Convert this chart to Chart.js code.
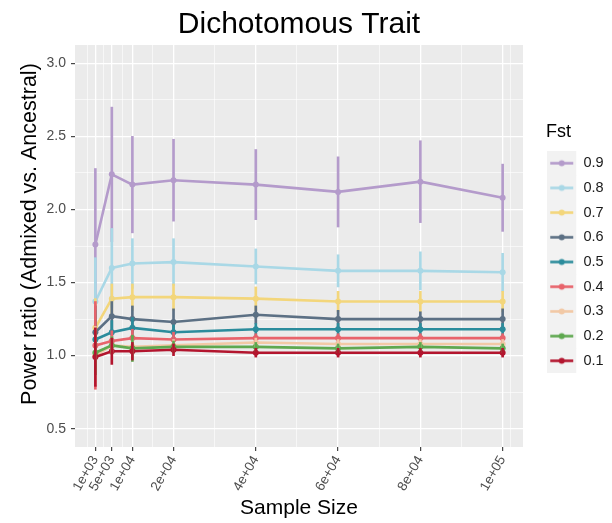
<!DOCTYPE html>
<html>
<head>
<meta charset="utf-8">
<script src="https://cdn.jsdelivr.net/npm/chart.js@4.4.0/dist/chart.umd.min.js"></script>
<style>
  html, body { margin: 0; padding: 0; background: #ffffff; }
  #wrap { width: 612px; height: 523px; }
</style>
</head>
<body>
<div id="wrap"><canvas id="chart" width="612" height="523"></canvas></div>
<script>
// Sample sizes on the x axis and their printed labels
const sampleSizes = [1000, 5000, 10000, 20000, 40000, 60000, 80000, 100000];
const sampleSizeLabels = ['1e+03', '5e+03', '1e+04', '2e+04', '4e+04', '6e+04', '8e+04', '1e+05'];
const ratioTicks = [0.5, 1.0, 1.5, 2.0, 2.5, 3.0];

// Fst levels and their colours
const fstLevels = ['0.1', '0.2', '0.3', '0.4', '0.5', '0.6', '0.7', '0.8', '0.9'];
const fstColors = ['#B3152E', '#5EA84F', '#F2C9A6', '#E8636B', '#2B8C9C', '#5C7084', '#F3D67B', '#A9D8E6', '#B49BCB'];

// Mean power ratio per sample size, one array per Fst level
const ratio01 = [0.99, 1.03, 1.03, 1.04, 1.02, 1.02, 1.02, 1.02];
const ratio02 = [1.02, 1.07, 1.05, 1.06, 1.06, 1.05, 1.06, 1.05];
const ratio03 = [1.00, 1.07, 1.06, 1.07, 1.09, 1.08, 1.08, 1.08];
const ratio04 = [1.07, 1.10, 1.12, 1.11, 1.12, 1.12, 1.12, 1.12];
const ratio05 = [1.11, 1.16, 1.19, 1.16, 1.18, 1.18, 1.18, 1.18];
const ratio06 = [1.16, 1.27, 1.25, 1.23, 1.28, 1.25, 1.25, 1.25];
const ratio07 = [1.19, 1.39, 1.40, 1.40, 1.39, 1.37, 1.37, 1.37];
const ratio08 = [1.37, 1.60, 1.63, 1.64, 1.61, 1.58, 1.58, 1.57];
const ratio09 = [1.76, 2.24, 2.17, 2.20, 2.17, 2.12, 2.19, 2.08];

// Half-width of the error bar at each sample size
const err01 = [0.20, 0.09, 0.06, 0.04, 0.03, 0.03, 0.03, 0.03];
const err02 = [0.15, 0.06, 0.09, 0.04, 0.03, 0.03, 0.03, 0.03];
const err03 = [0.20, 0.06, 0.05, 0.04, 0.03, 0.03, 0.03, 0.03];
const err04 = [0.30, 0.07, 0.06, 0.05, 0.03, 0.03, 0.03, 0.03];
const err05 = [0.20, 0.08, 0.07, 0.05, 0.04, 0.04, 0.04, 0.04];
const err06 = [0.18, 0.10, 0.09, 0.09, 0.06, 0.06, 0.05, 0.07];
const err07 = [0.20, 0.10, 0.09, 0.09, 0.08, 0.07, 0.07, 0.07];
const err08 = [0.30, 0.27, 0.17, 0.16, 0.12, 0.11, 0.13, 0.13];
const err09 = [0.52, 0.46, 0.33, 0.28, 0.24, 0.24, 0.28, 0.23];

const ratios = [ratio01, ratio02, ratio03, ratio04, ratio05, ratio06, ratio07, ratio08, ratio09];
const errs = [err01, err02, err03, err04, err05, err06, err07, err08, err09];

const FONT = "'Liberation Sans', Arial, Helvetica, sans-serif";

// Axis limits: data limits padded by 5% on each side
const xSpan = sampleSizes[sampleSizes.length - 1] - sampleSizes[0];
const xMin = sampleSizes[0] - 0.05 * xSpan;
const xMax = sampleSizes[sampleSizes.length - 1] + 0.05 * xSpan;
const ySpan = ratioTicks[ratioTicks.length - 1] - ratioTicks[0];
const yMin = ratioTicks[0] - 0.05 * ySpan;
const yMax = ratioTicks[ratioTicks.length - 1] + 0.05 * ySpan;

// Minor grid positions halfway between breaks (breaks extended one step beyond each end)
function minorBetween(breaks, lo, hi) {
  const step = breaks[1] - breaks[0];
  const ext = [breaks[0] - step, ...breaks, breaks[breaks.length - 1] + step];
  const out = [];
  for (let i = 0; i < ext.length - 1; i++) {
    const m = (ext[i] + ext[i + 1]) / 2;
    if (m >= lo && m <= hi) out.push(m);
  }
  return out;
}
const xMinor = minorBetween(sampleSizes, xMin, xMax);
const yMinor = minorBetween(ratioTicks, yMin, yMax);
const xAllTicks = [...sampleSizes, ...xMinor].sort((a, b) => a - b);
const yAllTicks = [...ratioTicks, ...yMinor].sort((a, b) => a - b);

const isMajorX = v => sampleSizes.includes(v);
const isMajorY = v => ratioTicks.some(t => Math.abs(t - v) < 1e-9);

// Legend key: grey key background with a short line and a dot
function makeKey(color) {
  const c = document.createElement('canvas');
  c.width = 38; c.height = 25;
  const g = c.getContext('2d');
  g.fillStyle = '#F2F2F2';
  g.fillRect(0, 0, 29, 25);
  g.strokeStyle = color;
  g.lineWidth = 2.6;
  g.beginPath();
  g.moveTo(3, 12.5);
  g.lineTo(26, 12.5);
  g.stroke();
  g.fillStyle = color;
  g.beginPath();
  g.arc(14.5, 12.5, 3, 0, Math.PI * 2);
  g.fill();
  return c;
}

// Error bar datasets first so they sit above the lines; 0.1 is drawn on top
const barSets = fstLevels.map((lvl, k) => ({
  type: 'bar',
  label: lvl,
  yAxisID: 'y',
  xAxisID: 'x',
  data: sampleSizes.map((n, i) => ({ x: n, y: [ratios[k][i] - errs[k][i], ratios[k][i] + errs[k][i]] })),
  backgroundColor: fstColors[k],
  borderWidth: 0,
  barThickness: 2,
  maxBarThickness: 2,
  grouped: false
}));

const lineSets = fstLevels.map((lvl, k) => ({
  type: 'line',
  label: lvl,
  yAxisID: 'y',
  xAxisID: 'x',
  data: sampleSizes.map((n, i) => ({ x: n, y: ratios[k][i] })),
  borderColor: fstColors[k],
  backgroundColor: fstColors[k],
  pointBackgroundColor: fstColors[k],
  borderWidth: 2.6,
  pointRadius: 3,
  pointHoverRadius: 3,
  pointBorderWidth: 0,
  fill: false,
  tension: 0
}));

const panelBackground = {
  id: 'panelBackground',
  beforeDraw(chart) {
    const { ctx, chartArea: a } = chart;
    ctx.save();
    ctx.fillStyle = '#EBEBEB';
    ctx.fillRect(a.left, a.top, a.right - a.left, a.bottom - a.top);
    ctx.restore();
  }
};

new Chart(document.getElementById('chart'), {
  type: 'line',
  data: { datasets: [...barSets, ...lineSets] },
  plugins: [panelBackground],
  options: {
    responsive: false,
    devicePixelRatio: 1,
    animation: false,
    events: [],
    layout: { padding: 0 },
    scales: {
      x: {
        type: 'linear',
        position: 'bottom',
        min: xMin,
        max: xMax,
        bounds: 'data',
        offset: false,
        afterBuildTicks: s => { s.ticks = xAllTicks.map(v => ({ value: v })); },
        afterFit: s => { s.height = 76; },
        ticks: {
          autoSkip: false,
          minRotation: 60,
          maxRotation: 60,
          padding: 2,
          color: '#4D4D4D',
          font: { family: FONT, size: 13.5 },
          callback: v => { const i = sampleSizes.indexOf(v); return i >= 0 ? sampleSizeLabels[i] : ''; }
        },
        grid: {
          offset: false,
          color: '#FFFFFF',
          lineWidth: c => (c.tick && isMajorX(c.tick.value)) ? 1.3 : 0.6,
          tickLength: 4,
          tickWidth: 1.1,
          tickColor: c => (c.tick && isMajorX(c.tick.value)) ? '#333333' : 'rgba(0,0,0,0)'
        },
        border: { display: false },
        title: {
          display: true,
          text: 'Sample Size',
          color: '#000000',
          font: { family: FONT, size: 21 },
          padding: { top: 0, bottom: 2.4 }
        }
      },
      y: {
        type: 'linear',
        position: 'left',
        min: yMin,
        max: yMax,
        bounds: 'data',
        afterBuildTicks: s => { s.ticks = yAllTicks.map(v => ({ value: v })); },
        afterFit: s => { s.width = 75; },
        ticks: {
          color: '#4D4D4D',
          padding: 5,
          font: { family: FONT, size: 14 },
          callback: v => isMajorY(v) ? v.toFixed(1) : ''
        },
        grid: {
          color: '#FFFFFF',
          lineWidth: c => (c.tick && isMajorY(c.tick.value)) ? 1.3 : 0.6,
          tickLength: 4,
          tickWidth: 1.1,
          tickColor: c => (c.tick && isMajorY(c.tick.value)) ? '#333333' : 'rgba(0,0,0,0)'
        },
        border: { display: false },
        title: {
          display: true,
          // leading spaces nudge the centred title toward the top of the axis
          text: '    Power ratio (Admixed vs. Ancestral)',
          color: '#000000',
          font: { family: FONT, size: 21.5 },
          padding: { top: 17, bottom: 0 }
        }
      },
      // empty band between the panel and the legend
      gap: {
        type: 'linear',
        position: 'right',
        display: true,
        afterFit: s => { s.width = 23; },
        ticks: { display: false },
        grid: { display: false, drawTicks: false },
        border: { display: false }
      }
    },
    plugins: {
      title: {
        display: true,
        text: 'Dichotomous Trait',
        color: '#000000',
        fullSize: false,
        font: { family: FONT, size: 30, weight: 'normal' },
        padding: { top: 7, bottom: 2 }
      },
      legend: {
        display: true,
        position: 'right',
        fullSize: false,
        maxWidth: 66,
        align: 'center',
        title: {
          display: true,
          text: 'Fst',
          color: '#000000',
          position: 'start',
          font: { family: FONT, size: 18 },
          padding: { top: 9.25, bottom: 1.15 }
        },
        labels: {
          usePointStyle: true,
          pointStyleWidth: 20,
          padding: 10.2,
          color: '#1A1A1A',
          font: { family: FONT, size: 14.5 },
          generateLabels: chart => chart.data.datasets
            .map((ds, i) => ({ ds, i }))
            .filter(o => o.ds.type === 'line')
            .map(o => ({
              text: o.ds.label,
              datasetIndex: o.i,
              pointStyle: makeKey(o.ds.borderColor),
              fontColor: '#1A1A1A',
              fillStyle: o.ds.borderColor,
              strokeStyle: o.ds.borderColor,
              lineWidth: 0,
              hidden: false
            })),
          sort: (a, b) => b.datasetIndex - a.datasetIndex
        }
      },
      tooltip: { enabled: false }
    }
  }
});
</script>
</body>
</html>
